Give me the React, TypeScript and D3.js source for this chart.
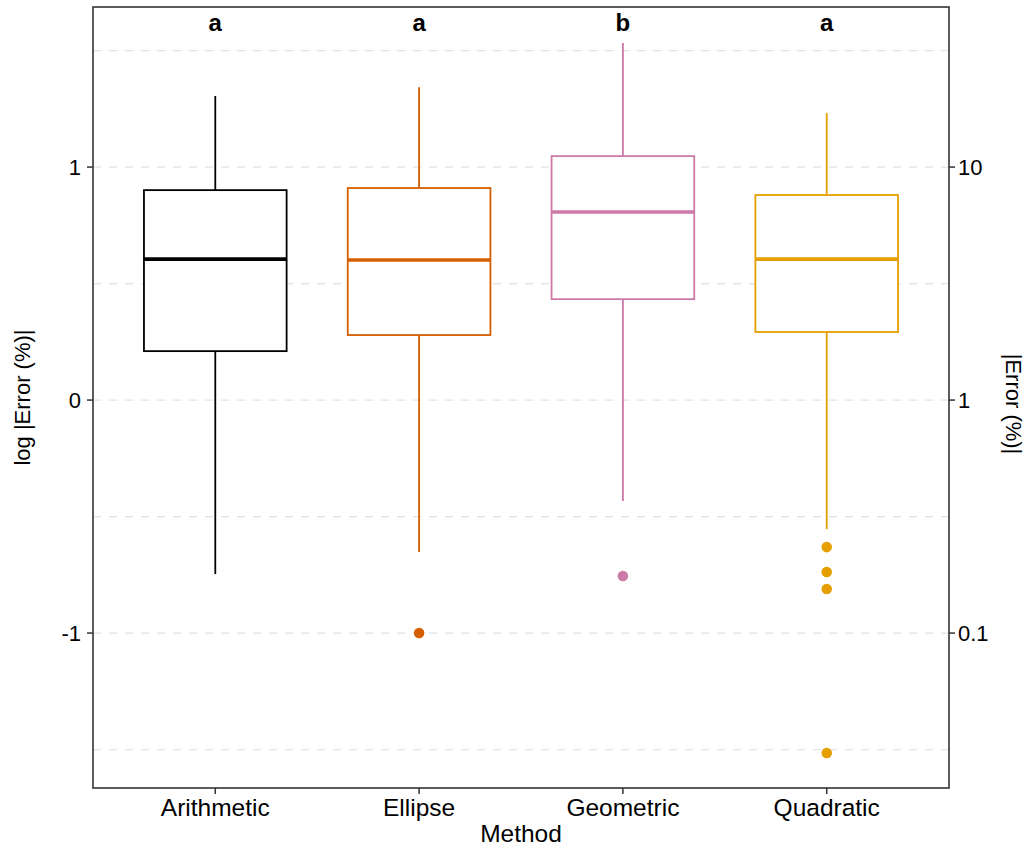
import React from "react";
import * as d3 from "d3";

const methods = ["Arithmetic", "Ellipse", "Geometric", "Quadratic"];
const colors = ["#000000", "#D55E00", "#CC79A7", "#E69F00"];
const letters = ["a", "a", "b", "a"];
// [lowerWhisker, Q1, median, Q3, upperWhisker]
const stats = [
  [-0.747, 0.21, 0.605, 0.901, 1.305],
  [-0.652, 0.279, 0.601, 0.91, 1.343],
  [-0.433, 0.433, 0.807, 1.047, 1.532],
  [-0.554, 0.292, 0.605, 0.88, 1.232],
];
const outliers = [[], [-1.0], [-0.755], [-0.631, -0.738, -0.811, -1.515]];
const leftTicks = [-1, 0, 1];
const rightTickLabels = ["0.1", "1", "10"];
const gridValues = [-1.5, -1, -0.5, 0, 0.5, 1, 1.5];

export default function App() {
  const W = 1034, H = 850;
  const left = 93, right = 949, top = 7, bottom = 788;
  const y = d3.scaleLinear().domain([-1.665, 1.687]).range([bottom, top]);
  const unit = (right - left) / 4.2;
  const x = (i: number) => left + (0.6 + i) * unit;
  const bw = 0.7 * unit;
  const font = "Liberation Sans, Arial, sans-serif";
  return (
    <svg width={W} height={H} style={{ position: "absolute", left: 0, top: 0 }} fontFamily={font}>
      <rect width={W} height={H} fill="#fff" />
      {gridValues.map((g) => (
        <line key={g} x1={left} x2={right} y1={y(g)} y2={y(g)} stroke="#e3e3e3" strokeWidth={1.2} strokeDasharray="8,8" />
      ))}
      {stats.map((s, i) => {
        const cx = x(i);
        const c = colors[i];
        return (
          <g key={i}>
            <line x1={cx} x2={cx} y1={y(s[4])} y2={y(s[3])} stroke={c} strokeWidth={1.8} />
            <line x1={cx} x2={cx} y1={y(s[1])} y2={y(s[0])} stroke={c} strokeWidth={1.8} />
            <rect x={cx - bw / 2} y={y(s[3])} width={bw} height={y(s[1]) - y(s[3])} fill="#fff" stroke={c} strokeWidth={1.8} />
            <line x1={cx - bw / 2} x2={cx + bw / 2} y1={y(s[2])} y2={y(s[2])} stroke={c} strokeWidth={3.6} />
            {outliers[i].map((o, j) => (
              <circle key={j} cx={cx} cy={y(o)} r={5.3} fill={c} />
            ))}
            <text x={cx} y={31} textAnchor="middle" fontSize={24} fontWeight="bold" fill="#000">{letters[i]}</text>
            <line x1={cx} x2={cx} y1={bottom} y2={bottom + 6} stroke="#333" strokeWidth={1.5} />
            <text x={cx} y={816} textAnchor="middle" fontSize={24.5} fill="#000">{methods[i]}</text>
          </g>
        );
      })}
      <rect x={left} y={top} width={right - left} height={bottom - top} fill="none" stroke="#333" strokeWidth={1.6} />
      {leftTicks.map((t, i) => (
        <g key={t}>
          <line x1={left - 6} x2={left} y1={y(t)} y2={y(t)} stroke="#333" strokeWidth={1.5} />
          <text x={left - 12} y={y(t) + 8} textAnchor="end" fontSize={22} fill="#000">{t}</text>
          <line x1={right} x2={right + 6} y1={y(t)} y2={y(t)} stroke="#333" strokeWidth={1.5} />
          <text x={right + 9} y={y(t) + 8} textAnchor="start" fontSize={22} fill="#000">{rightTickLabels[i]}</text>
        </g>
      ))}
      <text x={(left + right) / 2} y={842} textAnchor="middle" fontSize={24.5} fill="#000">Method</text>
      <text transform={`translate(30, ${(top + bottom) / 2}) rotate(-90)`} textAnchor="middle" fontSize={22} fill="#000">log |Error (%)|</text>
      <text transform={`translate(1006, 404) rotate(90)`} textAnchor="middle" fontSize={22} fill="#000">|Error (%)|</text>
    </svg>
  );
}
